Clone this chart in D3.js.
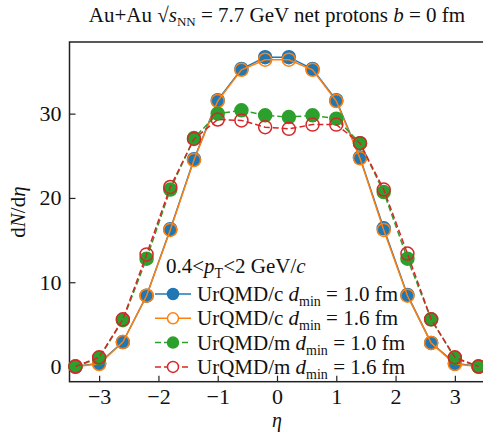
<!DOCTYPE html>
<html>
<head>
<meta charset="utf-8">
<script src="https://cdn.jsdelivr.net/npm/d3@7"></script>
<style>
  body { margin: 0; background: #fff; }
  text { font-family: "Liberation Serif", "Times New Roman", serif; fill: #111; }
</style>
</head>
<body>
<svg id="chart"></svg>
<script>
const eta = [-3.4, -3.0, -2.6, -2.2, -1.8, -1.4, -1.0, -0.6, -0.2, 0.2, 0.6, 1.0, 1.4, 1.8, 2.2, 2.6, 3.0, 3.4];
const cDmin10 = [0.0, 0.4, 2.9, 8.4, 16.3, 24.6, 31.6, 35.3, 36.7, 36.7, 35.3, 31.6, 24.8, 16.4, 8.5, 2.8, 0.4, 0.0];
const cDmin16 = [0.0, 0.3, 2.9, 8.4, 16.2, 24.5, 31.5, 35.2, 36.4, 36.4, 35.2, 31.5, 24.7, 16.2, 8.4, 2.8, 0.3, 0.0];
const mDmin10 = [0.0, 1.0, 5.5, 12.8, 21.0, 27.1, 30.0, 30.4, 29.8, 29.6, 29.8, 29.4, 26.5, 20.7, 12.8, 5.6, 1.0, 0.0];
const mDmin16 = [0.0, 1.1, 5.6, 13.3, 21.3, 27.0, 29.3, 29.2, 28.4, 28.2, 28.7, 28.7, 26.5, 21.0, 13.4, 5.6, 1.1, 0.0];
const xTicks = [-3, -2, -1, 0, 1, 2, 3];
const yTicks = [0, 10, 20, 30];

const series = [
  { name: "UrQMD/c", dmin: "1.0", values: cDmin10, color: "#1f77b4", filled: true, dash: null },
  { name: "UrQMD/c", dmin: "1.6", values: cDmin16, color: "#ff7f0e", filled: false, dash: null },
  { name: "UrQMD/m", dmin: "1.0", values: mDmin10, color: "#2ca02c", filled: true, dash: "6,3" },
  { name: "UrQMD/m", dmin: "1.6", values: mDmin16, color: "#d62728", filled: false, dash: "6,3" }
];

const width = 483, height = 432;
const margin = { left: 69.5, right: 484.5, top: 42, bottom: 381.7 };

const svg = d3.select("#chart").attr("width", width).attr("height", height);

const x = d3.scaleLinear().domain([-3.5, 3.5]).range([margin.left, margin.right]);
const y = d3.scaleLinear().domain([-1.8, 38.5]).range([margin.bottom, margin.top]);

// box
svg.append("rect")
  .attr("x", margin.left).attr("y", margin.top)
  .attr("width", margin.right - margin.left).attr("height", margin.bottom - margin.top)
  .attr("fill", "none").attr("stroke", "#222").attr("stroke-width", 1.5);

const xAxis = svg.append("g")
  .attr("transform", `translate(0, ${margin.bottom})`)
  .call(d3.axisBottom(x).tickValues(xTicks).tickFormat(d3.format("d"))
    .tickSizeInner(-6).tickSizeOuter(0).tickPadding(7));
const yAxis = svg.append("g")
  .attr("transform", `translate(${margin.left}, 0)`)
  .call(d3.axisLeft(y).tickValues(yTicks).tickFormat(d3.format("d"))
    .tickSizeInner(-6).tickSizeOuter(0).tickPadding(8));
[xAxis, yAxis].forEach(a => {
  a.select(".domain").remove();
  a.selectAll(".tick line").attr("stroke", "#222").attr("stroke-width", 1.2);
  a.selectAll(".tick text").style("font-size", "22px").style("font-family", "Liberation Serif, serif").attr("fill", "#111");
});

const line = d3.line().x((d, i) => x(eta[i])).y(d => y(d));

series.forEach(s => {
  const g = svg.append("g");
  g.append("path")
    .attr("d", line(s.values))
    .attr("fill", "none")
    .attr("stroke", s.color)
    .attr("stroke-width", 1.5)
    .attr("stroke-dasharray", s.dash);
  g.selectAll("circle")
    .data(s.values)
    .join("circle")
    .attr("cx", (d, i) => x(eta[i]))
    .attr("cy", d => y(d))
    .attr("r", 6.5)
    .attr("fill", s.filled ? s.color : "none")
    .attr("stroke", s.color)
    .attr("stroke-width", 1.5);
});

// title
const title = svg.append("text")
  .attr("x", 277).attr("y", 22)
  .attr("text-anchor", "middle")
  .style("font-size", "21px");
title.append("tspan").text("Au+Au √");
title.append("tspan").attr("font-style", "italic").text("s");
title.append("tspan").attr("dy", 4).style("font-size", "13px").text("NN");
title.append("tspan").attr("dy", -4).text(" = 7.7 GeV net protons ");
title.append("tspan").attr("font-style", "italic").text("b");
title.append("tspan").text(" = 0 fm");

// axis labels
svg.append("text")
  .attr("x", 277).attr("y", 427)
  .attr("text-anchor", "middle")
  .style("font-size", "20px")
  .attr("font-style", "italic")
  .text("η");

const yl = svg.append("text")
  .attr("transform", "translate(25, 212) rotate(-90)")
  .attr("text-anchor", "middle")
  .style("font-size", "21px");
yl.append("tspan").text("d");
yl.append("tspan").attr("font-style", "italic").text("N");
yl.append("tspan").text("/d");
yl.append("tspan").attr("font-style", "italic").text("η");

// legend
const lt = svg.append("text")
  .attr("x", 166).attr("y", 273)
  .style("font-size", "21px");
lt.append("tspan").text("0.4<");
lt.append("tspan").attr("font-style", "italic").text("p");
lt.append("tspan").attr("dy", 5).style("font-size", "14px").text("T");
lt.append("tspan").attr("dy", -5).text("<2 GeV/");
lt.append("tspan").attr("font-style", "italic").text("c");

const legend = svg.append("g")
  .selectAll("g")
  .data(series)
  .join("g")
  .attr("transform", (d, i) => `translate(155, ${294 + i * 24.3})`);

legend.append("line")
  .attr("x1", 0).attr("x2", 36)
  .attr("stroke", d => d.color)
  .attr("stroke-width", 1.5)
  .attr("stroke-dasharray", d => d.dash);
legend.append("circle")
  .attr("cx", 18).attr("r", 5.5)
  .attr("fill", d => d.filled ? d.color : "#fff")
  .attr("stroke", d => d.color)
  .attr("stroke-width", 1.5);

const lab = legend.append("text")
  .attr("x", 42).attr("y", 7)
  .style("font-size", "21px");
lab.append("tspan").text(d => d.name + " ");
lab.append("tspan").attr("font-style", "italic").text("d");
lab.append("tspan").attr("dy", 5).style("font-size", "14px").text("min");
lab.append("tspan").attr("dy", -5).text(d => " = " + d.dmin + " fm");
</script>
</body>
</html>
